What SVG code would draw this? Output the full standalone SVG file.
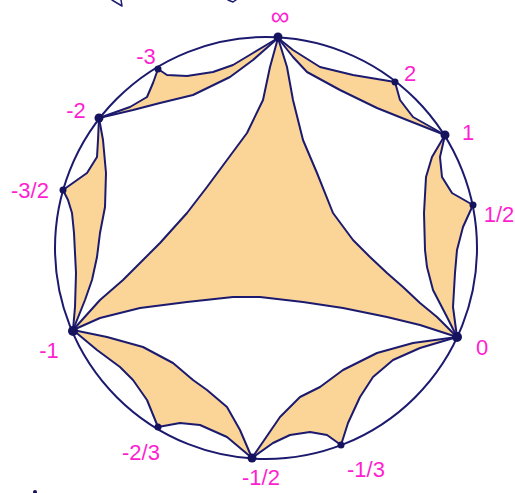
<svg xmlns="http://www.w3.org/2000/svg" width="515" height="493" viewBox="0 0 515 493">
<style>
.fill{fill:#fad597;stroke:none}
.edge{fill:none;stroke:#1c1a6e;stroke-width:2;stroke-linejoin:round;stroke-linecap:round}
.dot{fill:#15125e}
.lbl{fill:#ff1fd0;font-family:"Liberation Sans",Arial,sans-serif;font-size:22px;text-anchor:middle}
</style>
<rect width="515" height="493" fill="#ffffff"/>
<g id="fills">
<path class="fill" d="M278,38 L253,53 L233,65 L213,72 L187,76 L167,75 L158,69 L153,83 L147,97 L130,107 L99,118 L133,110 L160,103 L193,95 L230,77 L253,60 Z"/>
<path class="fill" d="M99,118 L98,140 L97,157 L87,173 L63,190 L68,200 L72,213 L74,233 L76,273 L75,307 L73,330 L85,300 L92,280 L97,257 L100,233 L105,207 L106,173 L103,140 Z"/>
<path class="fill" d="M278,38 L270,67 L263,100 L247,133 L227,160 L207,187 L187,213 L160,243 L143,260 L123,280 L100,300 L73,330 L100,318 L140,308 L187,302 L233,297 L260,297 L303,302 L343,308 L387,317 L420,325 L457,337 L437,317 L420,303 L403,287 L387,273 L370,257 L353,240 L333,213 L317,173 L303,140 L293,100 L287,67 Z"/>
<path class="fill" d="M278,38 L293,50 L320,67 L353,75 L395,82 L400,100 L413,117 L445,135 L407,120 L377,108 L340,90 L307,72 L293,57 Z"/>
<path class="fill" d="M445,135 L440,157 L442,177 L452,193 L473,205 L463,227 L457,250 L455,273 L453,307 L457,337 L447,317 L433,290 L427,267 L425,250 L424,213 L426,177 L432,157 Z"/>
<path class="fill" d="M457,337 L420,348 L393,360 L373,377 L360,397 L348,423 L341,445 L327,435 L310,432 L290,435 L273,443 L252,458 L280,417 L300,397 L320,387 L343,370 L377,353 L413,343 Z"/>
<path class="fill" d="M73,330 L97,350 L120,367 L133,380 L147,400 L158,427 L180,423 L200,425 L227,437 L252,458 L240,430 L227,407 L207,390 L193,380 L173,363 L143,347 L107,337 Z"/>
</g>
<g id="connectors">
<circle class="edge" cx="266" cy="248" r="211"/>
<polyline class="edge" points="278,38 253,53 233,65 213,72 187,76 167,75 158,69"/>
<polyline class="edge" points="278,38 253,60 230,77 193,95 160,103 133,110 99,118"/>
<polyline class="edge" points="158,69 153,83 147,97 130,107 99,118"/>
<polyline class="edge" points="99,118 98,140 97,157 87,173 63,190"/>
<polyline class="edge" points="99,118 103,140 106,173 105,207 100,233 97,257 92,280 85,300 73,330"/>
<polyline class="edge" points="63,190 68,200 72,213 74,233 76,273 75,307 73,330"/>
<polyline class="edge" points="278,38 270,67 263,100 247,133 227,160 207,187 187,213 160,243 143,260 123,280 100,300 73,330"/>
<polyline class="edge" points="73,330 100,318 140,308 187,302 233,297 260,297 303,302 343,308 387,317 420,325 457,337"/>
<polyline class="edge" points="278,38 287,67 293,100 303,140 317,173 333,213 353,240 370,257 387,273 403,287 420,303 437,317 457,337"/>
<polyline class="edge" points="278,38 293,50 320,67 353,75 395,82"/>
<polyline class="edge" points="278,38 293,57 307,72 340,90 377,108 407,120 445,135"/>
<polyline class="edge" points="395,82 400,100 413,117 445,135"/>
<polyline class="edge" points="445,135 440,157 442,177 452,193 473,205"/>
<polyline class="edge" points="445,135 432,157 426,177 424,213 425,250 427,267 433,290 447,317 457,337"/>
<polyline class="edge" points="473,205 463,227 457,250 455,273 453,307 457,337"/>
<polyline class="edge" points="457,337 420,348 393,360 373,377 360,397 348,423 341,445"/>
<polyline class="edge" points="457,337 413,343 377,353 343,370 320,387 300,397 280,417 252,458"/>
<polyline class="edge" points="341,445 327,435 310,432 290,435 273,443 252,458"/>
<polyline class="edge" points="73,330 97,350 120,367 133,380 147,400 158,427"/>
<polyline class="edge" points="73,330 107,337 143,347 173,363 193,380 207,390 227,407 240,430 252,458"/>
<polyline class="edge" points="158,427 180,423 200,425 227,437 252,458"/>
<polyline class="edge" points="112,0 122,6 121,0" style="stroke-width:1.5"/>
<polyline class="edge" points="228,0 233,2 236,0" style="stroke-width:1.5"/>
<circle class="dot" cx="35" cy="492" r="2"/>
</g>
<g id="n-inf"><circle class="dot" cx="278" cy="37" r="4.5"/><text class="lbl" x="280" y="25" style="font-size:26px">∞</text></g>
<g id="n-m3"><circle class="dot" cx="158" cy="69" r="3.5"/><text class="lbl" x="146" y="64">-3</text></g>
<g id="n-m2"><circle class="dot" cx="99" cy="118" r="4.5"/><text class="lbl" x="76" y="118">-2</text></g>
<g id="n-m3h"><circle class="dot" cx="63" cy="190" r="3.5"/><text class="lbl" x="30" y="198">-3/2</text></g>
<g id="n-m1"><circle class="dot" cx="73" cy="331" r="5"/><text class="lbl" x="49" y="358">-1</text></g>
<g id="n-m23"><circle class="dot" cx="158" cy="427" r="3.5"/><text class="lbl" x="141" y="460">-2/3</text></g>
<g id="n-m12"><circle class="dot" cx="252" cy="458" r="4.5"/><text class="lbl" x="261" y="485">-1/2</text></g>
<g id="n-m13"><circle class="dot" cx="341" cy="445" r="3.5"/><text class="lbl" x="366" y="477">-1/3</text></g>
<g id="n-0"><circle class="dot" cx="457" cy="337" r="5"/><text class="lbl" x="482" y="355">0</text></g>
<g id="n-h"><circle class="dot" cx="473" cy="205" r="3.5"/><text class="lbl" x="499" y="222">1/2</text></g>
<g id="n-1"><circle class="dot" cx="445" cy="135" r="4.5"/><text class="lbl" x="468" y="140">1</text></g>
<g id="n-2"><circle class="dot" cx="395" cy="82" r="3.5"/><text class="lbl" x="410" y="81">2</text></g>
</svg>
